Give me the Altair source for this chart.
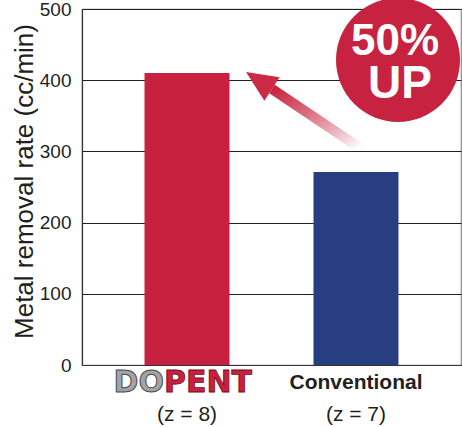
import altair as alt
import pandas as pd

# ---- data ----
categories = ["DOPENT", "Conventional"]
z_labels = ["(z = 8)", "(z = 7)"]
rates = [410, 271]
bar_colors = ["#C8203F", "#273F80"]
y_ticks = [0, 100, 200, 300, 400, 500]
badge_lines = ["50%", "UP"]

df = pd.DataFrame({"category": categories, "z": z_labels, "rate": rates, "color": bar_colors})
ann = pd.DataFrame({"k": [0]})

FONT = "Liberation Sans"
TXT = "#231f20"
RED = "#C8203F"

x_scale = alt.Scale(domain=categories, paddingInner=0.497, paddingOuter=0.37)
x_enc = alt.X("category:N", scale=x_scale, sort=categories,
              axis=alt.Axis(labels=False, ticks=False, title=None, domainColor="#333333", domainWidth=1.2, grid=False))

base = alt.Chart(df)

bars = base.mark_bar().encode(
    x=x_enc,
    y=alt.Y("rate:Q", scale=alt.Scale(domain=[0, 500]),
            axis=alt.Axis(values=y_ticks, title="Metal removal rate (cc/min)", ticks=False, tickSize=0,
                          labelPadding=11, labelFontSize=19, labelFont=FONT, labelColor=TXT,
                          titleFont=FONT, titleFontSize=26, titleFontWeight="normal", titleColor=TXT,
                          titleX=-50, titleY=172, titleAlign="center", titleBaseline="alphabetic", titleAngle=270,
                          grid=True, gridColor="#231f20", gridWidth=1, domainColor="#333333", domainWidth=1.2)),
    color=alt.Color("color:N", scale=None),
)

logo_do = base.transform_filter(alt.datum.category == "DOPENT").mark_text(
    font="DejaVu Sans", fontWeight="bold", fontSize=30, align="right", baseline="middle",
    dx=-23, fill="#a3a3a3", stroke="#4a4a4a", strokeWidth=1
).encode(x=x_enc, y=alt.value(374), text=alt.value("DO"))

logo_pent = base.transform_filter(alt.datum.category == "DOPENT").mark_text(
    font="DejaVu Sans", fontWeight="bold", fontSize=30, align="left", baseline="middle",
    dx=-23, fill=RED, stroke="#6e0e1c", strokeWidth=0.8
).encode(x=x_enc, y=alt.value(374), text=alt.value("PENT"))

conv_label = base.transform_filter(alt.datum.category == "Conventional").mark_text(
    font=FONT, fontWeight="bold", fontSize=21, align="center", baseline="middle", color=TXT
).encode(x=x_enc, y=alt.value(374), text="category:N")

z_text = base.mark_text(
    font=FONT, fontSize=21, align="center", baseline="middle", color=TXT
).encode(x=x_enc, y=alt.value(406), text="z:N")

arrow_shaft = alt.Chart(ann).mark_rule(
    strokeWidth=10, strokeCap="butt",
    stroke=alt.Gradient(gradient="linear", x1=1, y1=1, x2=0, y2=0,
                        stops=[alt.GradientStop(color="rgba(200,32,63,0)", offset=0),
                               alt.GradientStop(color="rgba(205,60,80,0.75)", offset=0.6),
                               alt.GradientStop(color="#C8203F", offset=1)])
).encode(x=alt.value(278), y=alt.value(139), x2=alt.value(190), y2=alt.value(80))

arrow_head = alt.Chart(ann).mark_point(
    shape="M0,-1L0.9,1L-0.9,1Z", filled=True, fill="#CA2A44", opacity=1, strokeWidth=0,
    size=961, angle=303
).encode(x=alt.value(177), y=alt.value(71.5))

badge = alt.Chart(ann).mark_point(
    shape="circle", filled=True, fill="#C72240", opacity=1, strokeWidth=0, size=124 * 124
).encode(x=alt.value(316), y=alt.value(51))

badge_t1 = alt.Chart(ann).mark_text(
    font=FONT, fontWeight="bold", fontSize=44, color="white", align="center", baseline="middle"
).encode(x=alt.value(313), y=alt.value(33), text=alt.value(badge_lines[0]))

badge_t2 = alt.Chart(ann).mark_text(
    font=FONT, fontWeight="bold", fontSize=46, color="white", align="center", baseline="middle"
).encode(x=alt.value(318), y=alt.value(74.5), text=alt.value(badge_lines[1]))

chart = alt.layer(
    bars, logo_do, logo_pent, conv_label, z_text, arrow_shaft, arrow_head, badge, badge_t1, badge_t2
).properties(
    width=379, height=356,
    autosize=alt.AutoSizeParams(type="none"),
    padding={"left": 82, "top": 9, "right": 1, "bottom": 62},
    background="white",
).configure_view(stroke="#8a8a8a", strokeWidth=1.2)

chart.save("out.html", embed_options={"renderer": "svg", "actions": False})
